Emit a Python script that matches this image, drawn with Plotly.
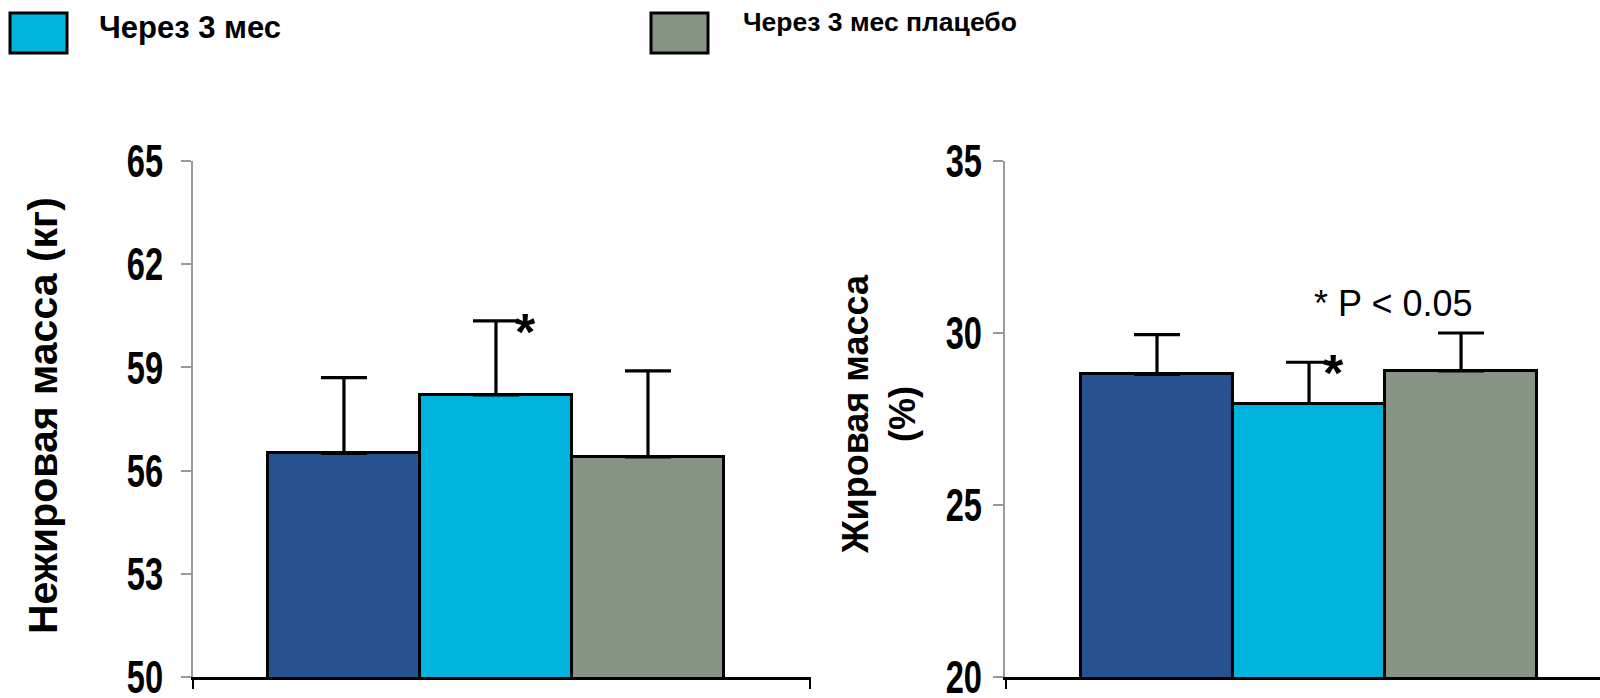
import plotly.graph_objects as go
from plotly.subplots import make_subplots

# Groups: baseline, after 3 months, after 3 months placebo
groups = ["Исходно", "Через 3 мес", "Через 3 мес плацебо"]
bar_colors = ["#26538F", "#00B4DE", "#869385"]

# Lean mass (kg), mean and upper SD
lean_mass = [56.5, 58.2, 56.4]
lean_err = [2.2, 2.15, 2.5]

# Fat mass (%), mean and upper SD
fat_pct = [28.8, 27.95, 28.9]
fat_err = [1.15, 1.2, 1.1]

lean_ticks = [50, 53, 56, 59, 62, 65]
fat_ticks = [20, 25, 30, 35]

legend_items = [("Через 3 мес", bar_colors[1]), ("Через 3 мес плацебо", bar_colors[2])]

BOLD = "Liberation Sans, Arial, sans-serif"

pos = list(range(len(groups)))

fig = make_subplots(rows=1, cols=2)

for col, vals, errs in [(1, lean_mass, lean_err), (2, fat_pct, fat_err)]:
    fig.add_trace(
        go.Bar(
            x=pos, y=vals, width=1,
            marker=dict(color=bar_colors, line=dict(color="black", width=3)),
            error_y=dict(type="data", array=errs, arrayminus=[0] * len(errs),
                         symmetric=False, color="black", thickness=3.2, width=23),
            showlegend=False, hoverinfo="skip",
        ),
        row=1, col=col,
    )

LEFT_DOMAIN = [0, 0.4392]
RIGHT_DOMAIN = [0.5771, 1]

fig.update_layout(
    width=1600, height=698,
    margin=dict(l=193, r=0, t=161, b=21),
    paper_bgcolor="white", plot_bgcolor="white",
    bargap=0,
    xaxis=dict(domain=LEFT_DOMAIN, range=[-0.993, 3.072]),
    xaxis2=dict(domain=RIGHT_DOMAIN, range=[-1.0, 2.914]),
    yaxis=dict(range=[50, 65], tickvals=lean_ticks, ticklabelstandoff=9),
    yaxis2=dict(range=[20, 35], tickvals=fat_ticks, ticklabelstandoff=2),
)

fig.update_xaxes(
    showline=True, linecolor="black", linewidth=3, showgrid=False, zeroline=False,
    ticks="outside", ticklen=9, tickwidth=2, tickcolor="black", showticklabels=False,
    automargin=False,
)
fig.update_xaxes(tickvals=[-0.99, 3.065], row=1, col=1)
fig.update_xaxes(tickvals=[-0.995], row=1, col=2)

fig.update_yaxes(
    showline=True, linecolor="#9a9a9a", linewidth=1.5, showgrid=False, zeroline=False,
    ticks="outside", ticklen=10, tickwidth=1.5, tickcolor="#9a9a9a",
    ticklabeloverflow="allow", automargin=False,
    tickfont=dict(family=BOLD, size=46, color="black", weight="bold"),
)

annotations = [
    # axis titles
    dict(text="<b>Нежировая масса (кг)</b>", xref="paper", yref="paper", x=0, y=0.5,
         xshift=43 - 193, yshift=3, xanchor="center", yanchor="middle",
         textangle=-90, showarrow=False,
         font=dict(family=BOLD, size=41, color="black")),
    dict(text="<b>Жировая масса<br>(%)</b>", xref="paper", yref="paper", x=0, y=0.5,
         xshift=879 - 193, yshift=5, xanchor="center", yanchor="middle",
         textangle=-90, showarrow=False,
         font=dict(family=BOLD, size=36, color="black")),
    # significance marks
    dict(text="<b>*</b>", xref="x", yref="y", x=pos[1], y=lean_mass[1] + lean_err[1],
         xshift=30, yshift=-11, showarrow=False,
         font=dict(family=BOLD, size=52, color="black")),
    dict(text="<b>*</b>", xref="x2", yref="y2", x=pos[1], y=fat_pct[1] + fat_err[1],
         xshift=24, yshift=-11, showarrow=False,
         font=dict(family=BOLD, size=52, color="black")),
    dict(text="* P < 0.05", xref="x2", yref="y2", x=1.55, y=30.85, showarrow=False,
         font=dict(family=BOLD, size=36, color="black")),
]

# legend swatches and labels along the top edge
legend_x = [10, 651]
legend_text_x = [97, 741]
legend_text_y = [27, 22]
legend_font = [31, 26.5]
shapes = []
for (label, color), sx, tx, ty, fs in zip(legend_items, legend_x, legend_text_x,
                                         legend_text_y, legend_font):
    shapes.append(dict(
        type="rect", xref="paper", yref="paper",
        xsizemode="pixel", ysizemode="pixel", xanchor=0, yanchor=1,
        x0=sx - 193, x1=sx + 57 - 193, y0=161 - 53, y1=161 - 13,
        fillcolor=color, line=dict(color="black", width=3),
    ))
    annotations.append(dict(
        text=f"<b>{label}</b>", xref="paper", yref="paper", x=0, y=1,
        xshift=tx - 193, yshift=161 - ty, xanchor="left", yanchor="middle",
        showarrow=False, font=dict(family=BOLD, size=fs, color="black"),
    ))

fig.update_layout(annotations=annotations, shapes=shapes)

# narrow the tick numerals of both value axes horizontally, keeping their right edge fixed
squeeze_ticks = """
var gd = document.getElementById('{plot_id}');
function squeeze() {
  gd.querySelectorAll('g.ytick text, g.y2tick text').forEach(function (t) {
    if (t.getAttribute('data-sq')) { return; }
    var x = parseFloat(t.getAttribute('x')) || 0;
    var tr = t.getAttribute('transform') || '';
    t.setAttribute('transform', tr + ' translate(' + x + ',0) scale(0.71,1) translate(' + (-x) + ',0)');
    t.setAttribute('data-sq', '1');
  });
}
squeeze();
gd.on('plotly_afterplot', squeeze);
"""

fig.write_html("out.html", post_script=squeeze_ticks)
